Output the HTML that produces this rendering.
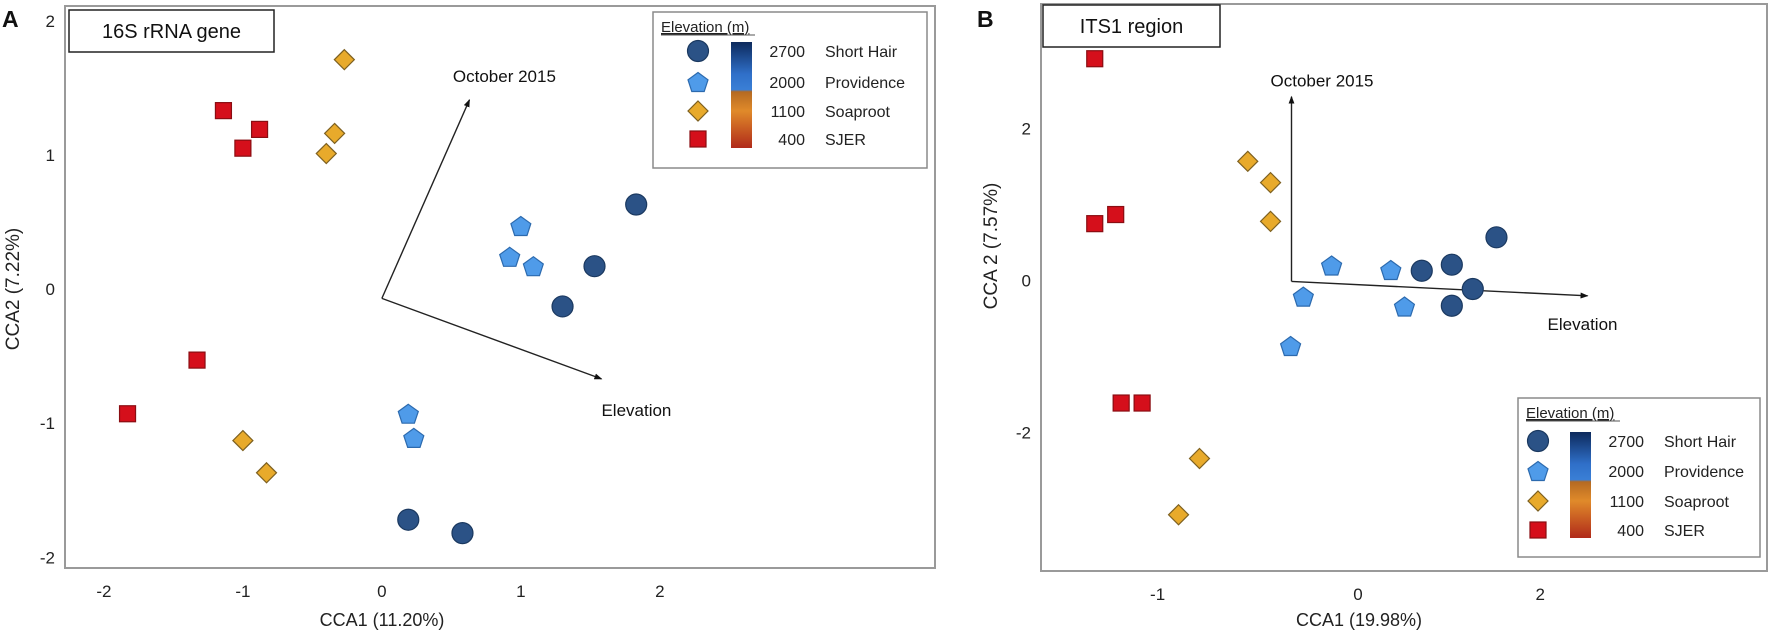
<!DOCTYPE html>
<html><head><meta charset="utf-8"><style>
html,body{margin:0;padding:0;background:#fff;}
svg{display:block;font-family:"Liberation Sans",Arial,sans-serif;}
</style></head><body>
<svg id="fig" width="1772" height="637" viewBox="0 0 1772 637" xmlns="http://www.w3.org/2000/svg">
<defs>
<linearGradient id="cbar" x1="0" y1="0" x2="0" y2="1">
<stop offset="0" stop-color="#0d2a5c"/><stop offset="0.3" stop-color="#2f6fc8"/><stop offset="0.45" stop-color="#3a7fd6"/>
<stop offset="0.47" stop-color="#b56a22"/><stop offset="0.65" stop-color="#e08a2a"/><stop offset="1" stop-color="#b02a1a"/>
</linearGradient>
<marker id="arr" markerWidth="8" markerHeight="8" refX="7" refY="4" orient="auto" markerUnits="userSpaceOnUse"><path d="M0,1 L8,4 L0,7 z" fill="#111"/></marker>
</defs>
</svg>
<script>
// ---------- Panel A data (16S rRNA gene) ----------
const aTicksX = [-2, -1, 0, 1, 2];
const aTicksY = [-2, -1, 0, 1, 2];
const aShortHairX = [1.83, 1.53, 1.30, 0.19, 0.58];
const aShortHairY = [0.63, 0.17, -0.13, -1.72, -1.82];
const aProvidenceX = [1.00, 0.92, 1.09, 0.19, 0.23];
const aProvidenceY = [0.47, 0.24, 0.17, -0.93, -1.11];
const aSoaprootX = [-0.27, -0.34, -0.40, -1.00, -0.83];
const aSoaprootY = [1.71, 1.16, 1.01, -1.13, -1.37];
const aSjerX = [-1.14, -1.00, -0.88, -1.33, -1.83];
const aSjerY = [1.33, 1.05, 1.19, -0.53, -0.93];
const aArrowOrigin = [0, -0.07];
const aArrowOct = [0.63, 1.41];
const aArrowElev = [1.58, -0.67];
// ---------- Panel B data (ITS1 region) ----------
const bTickLabelsX = ["-1", "0", "2"];
const bTickValsX = [-2.2, 0, 2];
const bTicksY = [-2, 0, 2];
const bShortHairX = [0.70, 1.03, 1.52, 1.26, 1.03];
const bShortHairY = [0.13, 0.21, 0.57, -0.11, -0.33];
const bProvidenceX = [-0.29, -0.60, -0.74, 0.36, 0.51];
const bProvidenceY = [0.20, -0.21, -0.86, 0.14, -0.34];
const bSoaprootX = [-1.21, -0.96, -0.96, -1.74, -1.97];
const bSoaprootY = [1.57, 1.29, 0.78, -2.34, -3.08];
const bSjerX = [-2.89, -2.89, -2.66, -2.60, -2.37];
const bSjerY = [2.92, 0.75, 0.87, -1.61, -1.61];
const bArrowOrigin = [-0.73, -0.01];
const bArrowOct = [-0.73, 2.42];
const bArrowElev = [2.52, -0.20];
const legendElev = ["2700", "2000", "1100", "400"];
const legendSites = ["Short Hair", "Providence", "Soaproot", "SJER"];

const NS = "http://www.w3.org/2000/svg";
const svg = document.getElementById('fig');
function mk(tag, attrs, parent, text) {
  const e = document.createElementNS(NS, tag);
  for (const k in attrs) e.setAttribute(k, attrs[k]);
  if (text !== undefined) e.textContent = text;
  (parent || svg).appendChild(e);
  return e;
}
function scale(d0, d1, r0, r1) { return v => r0 + (v - d0) / (d1 - d0) * (r1 - r0); }

const STY = {
  circle: {fill: "#2b5286", stroke: "#1b3960"},
  pent: {fill: "#4f9be9", stroke: "#2c6aae"},
  diam: {fill: "#e8aa2b", stroke: "#7d6020"},
  sq: {fill: "#d50f1b", stroke: "#8a0d12"}
};
function marker(kind, cx, cy, g, name) {
  let e;
  const s = STY[kind];
  if (kind === "circle") e = mk("circle", {cx: cx, cy: cy, r: 10.5}, g);
  else if (kind === "sq") e = mk("rect", {x: cx - 8, y: cy - 8, width: 16, height: 16}, g);
  else if (kind === "diam") e = mk("polygon", {points: `${cx},${cy-10} ${cx+10},${cy} ${cx},${cy+10} ${cx-10},${cy}`}, g);
  else {
    const r = 10.5; let p = [];
    for (let i = 0; i < 5; i++) { const a = -Math.PI/2 + i*2*Math.PI/5; p.push((cx + r*Math.cos(a)).toFixed(1) + "," + (cy + r*Math.sin(a) + 1).toFixed(1)); }
    e = mk("polygon", {points: p.join(" ")}, g);
  }
  e.setAttribute("fill", s.fill); e.setAttribute("stroke", s.stroke); e.setAttribute("stroke-width", "1.2");
  
  
  return e;
}

function legend(g, x0, y0, w, h, symX, rowsY, barX, barTop, barBot, numX) {
  const lg = mk("g", {}, g);
  
  
  mk("rect", {x: x0, y: y0, width: w, height: h, fill: "#fff", stroke: "#8a8a8a", "stroke-width": 1.5}, lg);
  const t = mk("text", {x: x0 + 8, y: y0 + 20, "font-size": 15, fill: "#222", "text-decoration": "underline"}, lg, "Elevation (m)");
  
  
  mk("line", {x1: x0 + 8, x2: x0 + 102, y1: y0 + 23, y2: y0 + 23, stroke: "#555", "stroke-width": 1}, lg);
  const b = mk("rect", {x: barX, y: barTop, width: 21, height: barBot - barTop, fill: "url(#cbar)"}, lg);
  
  
  const kinds = ["circle", "pent", "diam", "sq"];
  for (let i = 0; i < 4; i++) {
    marker(kinds[i], symX, rowsY[i], lg, "legend-symbol-" + legendSites[i].toLowerCase().replace(/ /g, "-"));
    const n = mk("text", {x: numX, y: rowsY[i] + 6, "font-size": 16, "text-anchor": "end", fill: "#222"}, lg, legendElev[i]);
    
    
    const s = mk("text", {x: numX + 20, y: rowsY[i] + 6, "font-size": 16, fill: "#222"}, lg, legendSites[i]);
    
    
  }
}

function panel(cfg) {
  const g = mk("g", {});
  
  
  const X = scale(cfg.xd[0], cfg.xd[1], cfg.L, cfg.R);
  const Y = scale(cfg.yd[0], cfg.yd[1], cfg.B, cfg.T);
  const f = mk("rect", {x: cfg.L, y: cfg.T, width: cfg.R - cfg.L, height: cfg.B - cfg.T, fill: "none", stroke: "#9a9a9a", "stroke-width": 2}, g);
  
  
  // ticks
  cfg.xTickVals.forEach((v, i) => {
    const t = mk("text", {x: X(v), y: cfg.B + 29, "font-size": 17, "text-anchor": "middle", fill: "#222"}, g, cfg.xTickLabels[i]);
    
    
  });
  cfg.yTicks.forEach(v => {
    const t = mk("text", {x: cfg.L - 10, y: Y(v) + 6, "font-size": 17, "text-anchor": "end", fill: "#222"}, g, String(v));
    
    
  });
  const xt = mk("text", {x: cfg.xTitleX, y: 626, "font-size": 18, "text-anchor": "middle", fill: "#222"}, g, cfg.xTitle);
  
  
  const yt = mk("text", {x: 0, y: 0, "font-size": 19, "text-anchor": "middle", fill: "#222", transform: `translate(${cfg.yTitleX},${cfg.yTitleY}) rotate(-90)`}, g, cfg.yTitle);
  
  
  // panel letter
  const pl = mk("text", {x: cfg.letterX, y: 27, "font-size": 23, "font-weight": "bold", fill: "#111"}, g, cfg.letter);
  
  
  // title box
  const tb = mk("g", {}, g);
  
  
  mk("rect", {x: cfg.tb[0], y: cfg.tb[1], width: cfg.tb[2], height: cfg.tb[3], fill: "#fff", stroke: "#222", "stroke-width": 1.5}, tb);
  mk("text", {x: cfg.tb[0] + cfg.tb[2]/2, y: cfg.tb[1] + cfg.tb[3]/2 + 7, "font-size": 20, "text-anchor": "middle", fill: "#111"}, tb, cfg.title);
  // arrows
  const ox = X(cfg.origin[0]), oy = Y(cfg.origin[1]);
  const a1 = mk("line", {x1: ox, y1: oy, x2: X(cfg.oct[0]), y2: Y(cfg.oct[1]), stroke: "#222", "stroke-width": 1.4, "marker-end": "url(#arr)"}, g);
  
  
  const a2 = mk("line", {x1: ox, y1: oy, x2: X(cfg.elev[0]), y2: Y(cfg.elev[1]), stroke: "#222", "stroke-width": 1.4, "marker-end": "url(#arr)"}, g);
  
  
  const l1 = mk("text", {x: X(cfg.oct[0]) + cfg.octLbl[0], y: Y(cfg.oct[1]) + cfg.octLbl[1], "font-size": 17, fill: "#111", "text-anchor": cfg.octAnchor}, g, "October 2015");
  
  
  const l2 = mk("text", {x: X(cfg.elev[0]) + cfg.elevLbl[0], y: Y(cfg.elev[1]) + cfg.elevLbl[1], "font-size": 17, fill: "#111"}, g, "Elevation");
  
  
  // points
  const series = [["sq", cfg.sj[0], cfg.sj[1], "sjer-point"], ["diam", cfg.so[0], cfg.so[1], "soaproot-point"],
                  ["pent", cfg.pr[0], cfg.pr[1], "providence-point"], ["circle", cfg.sh[0], cfg.sh[1], "short-hair-point"]];
  series.forEach(s => { for (let i = 0; i < s[1].length; i++) marker(s[0], X(s[1][i]), Y(s[2][i]), g, s[3]); });
  legend(g, ...cfg.leg);
}

panel({name: "panel-a-16s", L: 65, R: 935, T: 6, B: 568, xd: [-2.28, 3.98], yd: [-2.08, 2.11],
  xTickVals: aTicksX, xTickLabels: aTicksX.map(String), yTicks: aTicksY,
  xTitle: "CCA1 (11.20%)", xTitleX: 382, yTitle: "CCA2 (7.22%)", yTitleX: 19, yTitleY: 289,
  letter: "A", letterX: 2, tb: [69, 10, 205, 42], title: "16S rRNA gene",
  origin: aArrowOrigin, oct: aArrowOct, elev: aArrowElev, octLbl: [35, -18], octAnchor: "middle", elevLbl: [0, 37],
  sh: [aShortHairX, aShortHairY], pr: [aProvidenceX, aProvidenceY], so: [aSoaprootX, aSoaprootY], sj: [aSjerX, aSjerY],
  leg: [653, 12, 274, 156, 698, [51, 82, 111, 139], 731, 42, 148, 805]});

panel({name: "panel-b-its1", L: 1041, R: 1767, T: 4, B: 571, xd: [-3.48, 4.49], yd: [-3.82, 3.64],
  xTickVals: bTickValsX, xTickLabels: bTickLabelsX, yTicks: bTicksY,
  xTitle: "CCA1 (19.98%)", xTitleX: 1359, yTitle: "CCA 2 (7.57%)", yTitleX: 997, yTitleY: 246,
  letter: "B", letterX: 977, tb: [1043, 5, 177, 42], title: "ITS1 region",
  origin: bArrowOrigin, oct: bArrowOct, elev: bArrowElev, octLbl: [-21, -10], octAnchor: "start", elevLbl: [-40, 34],
  sh: [bShortHairX, bShortHairY], pr: [bProvidenceX, bProvidenceY], so: [bSoaprootX, bSoaprootY], sj: [bSjerX, bSjerY],
  leg: [1518, 398, 242, 159, 1538, [441, 471, 501, 530], 1570, 432, 538, 1644]});
</script>
</body></html>
